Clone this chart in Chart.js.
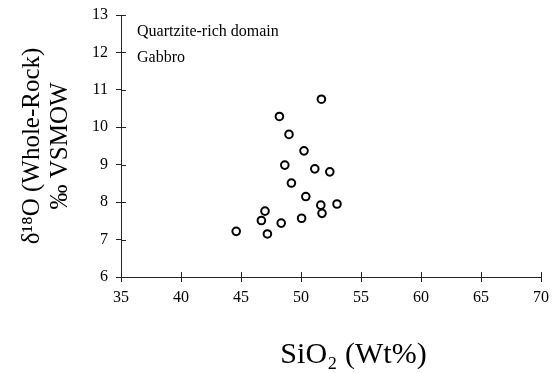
<!DOCTYPE html>
<html>
<head>
<meta charset="utf-8">
<script src="https://cdn.jsdelivr.net/npm/chart.js@4.4.1/dist/chart.umd.min.js"></script>
<style>
  html, body { margin: 0; padding: 0; background: #fff; }
  #wrap { width: 556px; height: 373px; }
</style>
</head>
<body>
<div id="wrap"><canvas id="chart"></canvas></div>
<script>
// SiO2 (wt%) and d18O values
const sio2 = [51.7, 48.2, 49.0, 50.25, 48.65, 51.15, 52.4, 49.2, 50.4, 51.65, 53.0, 47.0, 51.75, 46.7, 48.35, 50.05, 44.6, 47.2];
const d18o = [10.75, 10.29, 9.81, 9.37, 8.99, 8.89, 8.81, 8.51, 8.15, 7.92, 7.95, 7.76, 7.70, 7.51, 7.44, 7.57, 7.22, 7.15];
const xTicks = [35, 40, 45, 50, 55, 60, 65, 70];
const yTicks = [6, 7, 8, 9, 10, 11, 12, 13];
const legendLines = ['Quartzite-rich domain', 'Gabbro'];

const serif = "'Liberation Serif', 'DejaVu Serif', serif";

// ticks that cross the axis line (inner half) + corner text
const innerTicks = {
  id: 'innerTicks',
  afterDraw(chart) {
    const ctx = chart.ctx, x = chart.scales.x, y = chart.scales.y;
    ctx.save();
    ctx.strokeStyle = '#222';
    ctx.lineWidth = 1;
    ctx.beginPath();
    xTicks.forEach(v => {
      const px = Math.round(x.getPixelForValue(v)) + 0.5;
      ctx.moveTo(px, y.bottom); ctx.lineTo(px, y.bottom - 5);
    });
    yTicks.forEach(v => {
      const py = Math.round(y.getPixelForValue(v)) + 0.5;
      ctx.moveTo(x.left, py); ctx.lineTo(x.left + 5, py);
    });
    ctx.stroke();
    ctx.fillStyle = '#000';
    ctx.font = '16px ' + serif;
    ctx.textBaseline = 'middle';
    legendLines.forEach((t, i) => ctx.fillText(t, x.left + 16, y.top + 17 + i * 26));
    ctx.restore();
  }
};

new Chart(document.getElementById('chart'), {
  type: 'scatter',
  data: {
    datasets: [{
      data: sio2.map((v, i) => ({ x: v, y: d18o[i] })),
      pointStyle: 'circle',
      pointRadius: 3.8,
      borderWidth: 2,
      borderColor: '#000',
      backgroundColor: '#fff'
    }]
  },
  options: {
    responsive: true,
    maintainAspectRatio: false,
    animation: false,
    layout: { padding: { left: 0, top: 15, right: 15, bottom: 0 } },
    plugins: {
      legend: { display: false },
      tooltip: { enabled: false }
    },
    scales: {
      x: {
        type: 'linear',
        min: 35, max: 70,
        afterBuildTicks: s => { s.ticks = xTicks.map(v => ({ value: v })); },
        afterFit: s => { s.height = 96; },
        border: { color: '#222', width: 1 },
        grid: { drawOnChartArea: false, tickLength: 5, color: '#222' },
        ticks: { color: '#000', font: { family: serif, size: 16 }, padding: 6 },
        title: {
          display: true,
          text: '\u00a0\u00a0\u00a0\u00a0\u00a0\u00a0SiO\u2082 (Wt%)',
          color: '#000',
          font: { family: serif, size: 30 },
          padding: { top: 24, bottom: 0 }
        }
      },
      y: {
        type: 'linear',
        min: 6, max: 13,
        afterBuildTicks: s => { s.ticks = yTicks.map(v => ({ value: v })); },
        afterFit: s => { s.width = 121; s.paddingTop = 0; s.paddingBottom = 0; },
        border: { color: '#222', width: 1 },
        grid: { drawOnChartArea: false, tickLength: 5, color: '#222' },
        ticks: { color: '#000', font: { family: serif, size: 16 }, padding: 8 },
        title: {
          display: true,
          text: ['\u03b4\u00b9\u2078O (Whole-Rock)', '\u2030 VSMOW'],
          color: '#000',
          font: { family: serif, size: 25, lineHeight: 1.12 },
          padding: { bottom: 0, top: 18 }
        }
      }
    }
  },
  plugins: [innerTicks]
});
</script>
</body>
</html>
